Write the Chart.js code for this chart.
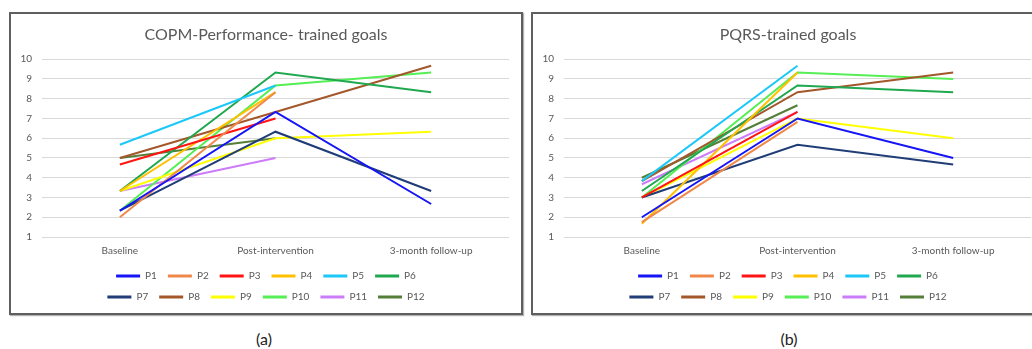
<!DOCTYPE html>
<html>
<head>
<meta charset="utf-8">
<script src="https://cdn.jsdelivr.net/npm/chart.js@4.4.1/dist/chart.umd.min.js"></script>
<style>
  html, body { margin: 0; padding: 0; background: #fff; }
  body { width: 1032px; height: 349px; position: relative; overflow: hidden; font-family: Lato, sans-serif; }
  .box { position: absolute; top: 12px; width: 510px; height: 299px; border: 2px solid #5f5f5f; box-shadow: 1px 1px 1px #b0b0b0; }
  .box canvas { display: block; }
  .cap { position: absolute; top: 329px; font-size: 16px; color: #222; transform: translateX(-50%); }
</style>
</head>
<body>
<div class="box" style="left:9px"><canvas id="copm" width="510" height="299"></canvas></div>
<div class="box" style="left:531px"><canvas id="pqrs" width="510" height="299"></canvas></div>
<div class="cap" style="left:264px">(a)</div>
<div class="cap" style="left:789px">(b)</div>
<script>
const categories = ['Baseline', 'Post-intervention', '3-month follow-up'];
const participants = ['P1', 'P2', 'P3', 'P4', 'P5', 'P6', 'P7', 'P8', 'P9', 'P10', 'P11', 'P12'];
const colors = ['#1515F5', '#F0884A', '#FF1414', '#FFC000', '#1CC8F8', '#1FA84F',
                '#203D78', '#A3582B', '#FFFF00', '#55EE55', '#CC7CF8', '#557F38'];

// COPM performance, one value per participant
const copmBaseline = [2.33, 2, 4.67, 3.33, 5.67, 3.33, 2.33, 5, 3.33, 2.33, 3.33, 5];
const copmPost     = [7.33, 8.33, 7, 8.33, 8.67, 9.33, 6.33, 7.33, 6, 8.67, 5, 6];
const copmFollowUp = [2.67, null, null, null, null, 8.33, 3.33, 9.67, 6.33, 9.33, null, null];

// PQRS
const pqrsBaseline = [2, 1.75, 3, 1.67, 3.83, 3.33, 3, 3.83, 3, 3, 3.67, 4];
const pqrsPost     = [7, 6.83, 7.33, 9.33, 9.67, 8.67, 5.67, 8.33, 7, 9.33, 7.33, 7.67];
const pqrsFollowUp = [5, null, null, null, null, 8.33, 4.67, 9.33, 6, 9, null, null];

const yMin = 1, yMax = 10;
const textColor = '#595959';

// keep the legend at six entries per row: lay it out and draw it as if it were narrower
const legendRowWidth = 355;
const LegendEl = Chart.Legend._element;
const legendUpdate = LegendEl.prototype.update;
const legendDraw = LegendEl.prototype.draw;
LegendEl.prototype.update = function (w, h, m) {
  return legendUpdate.call(this, Math.min(w, legendRowWidth), h, m);
};
LegendEl.prototype.draw = function () {
  const l = this.left, r = this.right, c = (l + r) / 2;
  this.left = c - legendRowWidth / 2;
  this.right = c + legendRowWidth / 2;
  legendDraw.call(this);
  this.left = l;
  this.right = r;
};

function makeChart(id, title, base, post, follow) {
  const datasets = participants.map((p, i) => ({
    label: p,
    data: [base[i], post[i], follow[i]],
    borderColor: colors[i],
    backgroundColor: colors[i],
    borderWidth: 2,
    pointRadius: 0,
    tension: 0
  }));

  return new Chart(document.getElementById(id), {
    type: 'line',
    data: { labels: categories, datasets: datasets },
    options: {
      responsive: false,
      animation: false,
      layout: { padding: { left: 0, right: 0, top: 0, bottom: 1 } },
      plugins: {
        title: {
          display: true,
          text: title,
          color: textColor,
          font: { family: 'Lato', size: 16, weight: 'normal' },
          padding: { top: 11, bottom: 15 }
        },
        legend: {
          position: 'bottom',
          labels: {
            color: textColor,
            font: { family: 'Lato', size: 10 },
            usePointStyle: true,
            pointStyle: 'line',
            pointStyleWidth: 24,
            padding: 11,
            generateLabels(chart) {
              return Chart.defaults.plugins.legend.labels.generateLabels(chart)
                .map(l => Object.assign(l, { lineWidth: 3, pointStyle: 'line' }));
            }
          }
        },
        tooltip: { enabled: false }
      },
      scales: {
        x: {
          offset: true,
          grid: { display: false, drawTicks: false },
          border: { display: false },
          ticks: { color: textColor, font: { family: 'Lato', size: 10 }, padding: 8, maxRotation: 0 },
          afterFit(scale) { scale.height = 23; }
        },
        y: {
          min: yMin,
          max: yMax,
          grid: { color: '#D9D9D9', drawTicks: false },
          border: { display: false },
          ticks: { stepSize: 1, color: textColor, font: { family: 'Lato', size: 10 }, padding: 10 },
          afterFit(scale) { scale.width = 31; }
        },
        yRight: {
          position: 'right',
          display: true,
          grid: { display: false, drawTicks: false },
          border: { display: false },
          ticks: { display: false },
          afterFit(scale) { scale.width = 12; }
        }
      }
    }
  });
}

makeChart('copm', 'COPM-Performance- trained goals', copmBaseline, copmPost, copmFollowUp);
makeChart('pqrs', 'PQRS-trained goals', pqrsBaseline, pqrsPost, pqrsFollowUp);
</script>
</body>
</html>
